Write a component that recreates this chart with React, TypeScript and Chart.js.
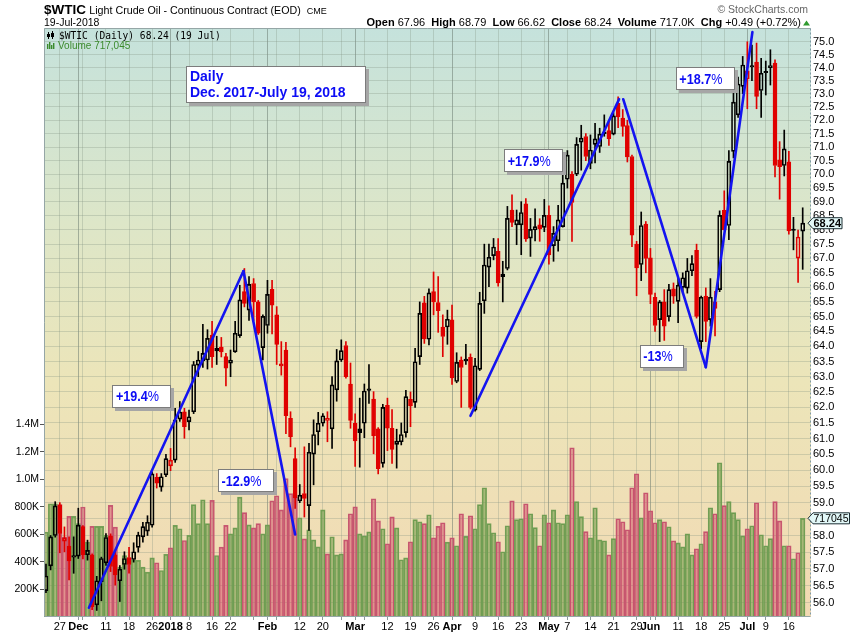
import React, { useEffect, useRef } from "react";
import { Chart, registerables } from "chart.js";

Chart.register(...registerables);

const FONT = '"Liberation Sans", Arial, Helvetica, sans-serif';
const MONO = '"DejaVu Sans Mono", "Liberation Mono", monospace';

const symbol = "$WTIC";
const title = "Light Crude Oil - Continuous Contract (EOD)";
const exchange = "CME";
const lastDateLong = "19-Jul-2018";
const lastDateShort = "19 Jul";

// Daily OHLC, 21 Nov 2017 .. 19 Jul 2018 (one entry per trading day)
const opens = [
  56.36, 57.09, 58.0, 58.93, 57.83, 57.68, 57.35, 57.38, 58.27, 57.42,
  57.42, 55.94, 56.62, 57.18, 57.99, 57.42, 56.65, 57.13, 57.34, 57.28,
  57.64, 57.96, 58.13, 58.31, 59.78, 59.48, 59.86, 60.14, 60.32, 61.62,
  61.86, 61.54, 61.86, 63.38, 63.52, 63.55, 64.38, 63.85, 63.98, 63.66,
  63.44, 63.82, 64.36, 65.85, 65.22, 66.13, 65.5, 63.96, 64.7, 65.93,
  65.06, 63.42, 63.88, 61.65, 60.37, 59.05, 59.28, 58.91, 60.51, 61.22,
  61.49, 61.58, 61.31, 62.57, 63.55, 64.03, 62.76, 61.49, 61.31, 61.49,
  62.6, 62.27, 61.31, 60.22, 62.07, 61.33, 60.82, 60.9, 61.19, 62.26,
  62.16, 63.66, 65.47, 64.24, 65.85, 65.48, 64.65, 64.65, 64.89, 62.84,
  63.55, 63.58, 63.64, 61.91, 63.24, 65.54, 66.7, 67.1, 67.25, 66.46,
  66.65, 68.71, 68.18, 68.18, 68.93, 67.71, 68.0, 68.18, 68.09, 68.52,
  67.45, 67.62, 68.12, 69.82, 70.0, 70.0, 71.18, 71.39, 70.4, 71.1,
  71.02, 71.55, 71.61, 71.48, 72.63, 72.08, 71.8, 70.65, 67.5, 66.79,
  68.21, 67.02, 65.66, 64.9, 65.5, 65.0, 65.95, 65.52, 66.0, 65.97,
  66.57, 67.28, 64.16, 65.7, 64.9, 65.5, 65.92, 68.7, 68.16, 70.84,
  72.2, 73.28, 73.56, 74.02, 74.21, 73.12, 73.8, 74.0, 74.17, 70.53,
  70.32, 70.46, 68.0, 67.01, 67.96,
];
const highs = [
  57.14, 58.0, 59.03, 59.0, 58.26, 57.96, 57.96, 58.83, 58.3, 57.86,
  57.45, 56.78, 57.35, 58.06, 58.05, 57.51, 57.1, 57.51, 57.64, 57.78,
  58.1, 58.4, 58.6, 59.95, 59.9, 59.9, 60.5, 60.69, 61.97, 62.19,
  61.97, 61.91, 63.5, 63.83, 64.74, 64.56, 64.84, 64.34, 64.3, 63.77,
  63.88, 64.84, 66.07, 66.65, 66.37, 66.3, 65.55, 65.06, 66.24, 66.24,
  65.34, 64.16, 64.14, 61.86, 60.71, 59.56, 60.74, 60.85, 61.6, 61.84,
  61.8, 61.86, 63.0, 63.9, 64.22, 64.16, 63.45, 61.79, 62.3, 62.76,
  63.4, 62.51, 61.35, 62.1, 62.3, 61.93, 61.3, 61.5, 62.55, 62.5,
  63.94, 65.5, 65.69, 65.95, 66.53, 66.37, 65.06, 65.22, 65.39, 63.79,
  63.65, 64.07, 63.75, 63.6, 65.83, 67.5, 67.5, 67.7, 67.7, 66.9,
  68.84, 69.26, 68.71, 69.01, 69.12, 68.41, 68.75, 68.4, 69.09, 68.86,
  68.12, 68.88, 70.1, 70.87, 70.1, 71.35, 71.81, 71.5, 71.45, 71.88,
  71.7, 72.2, 71.92, 72.28, 72.88, 72.4, 72.0, 70.7, 67.6, 68.64,
  68.3, 67.35, 65.8, 65.55, 65.92, 66.1, 66.15, 66.38, 66.5, 67.0,
  67.1, 67.5, 65.7, 65.98, 66.3, 65.86, 68.68, 69.4, 70.87, 73.1,
  73.63, 74.43, 75.0, 74.87, 74.95, 74.36, 74.25, 74.69, 74.3, 71.2,
  71.63, 70.84, 68.45, 68.0, 68.79,
];
const lows = [
  56.3, 56.97, 57.95, 57.48, 57.51, 56.67, 56.87, 57.31, 57.3, 57.26,
  55.8, 55.78, 56.06, 57.1, 56.92, 56.52, 56.04, 56.99, 56.87, 57.2,
  57.5, 57.8, 58.0, 58.25, 59.45, 59.35, 59.8, 59.99, 60.25, 61.55,
  61.01, 61.28, 61.8, 63.0, 63.3, 63.25, 63.3, 63.4, 63.65, 62.7,
  63.0, 63.8, 64.3, 65.33, 64.87, 64.87, 64.4, 63.55, 64.44, 64.42,
  63.4, 63.05, 61.16, 60.74, 58.82, 59.0, 58.56, 58.15, 59.55, 60.8,
  61.4, 60.9, 60.69, 62.2, 63.5, 62.95, 61.33, 60.12, 60.1, 61.03,
  62.13, 60.52, 59.89, 60.1, 60.62, 60.22, 60.07, 60.8, 61.05, 61.38,
  62.0, 63.4, 64.1, 64.05, 65.06, 64.47, 63.66, 64.07, 62.75, 62.8,
  62.0, 63.4, 61.95, 61.88, 63.2, 65.11, 66.02, 66.95, 66.04, 65.5,
  66.6, 68.12, 67.48, 67.13, 67.6, 67.07, 67.61, 67.6, 67.94, 66.8,
  66.9, 67.25, 68.1, 69.5, 67.6, 69.95, 70.15, 70.5, 70.2, 70.42,
  70.8, 71.4, 71.06, 71.45, 71.72, 71.4, 70.45, 67.41, 65.71, 66.23,
  66.5, 65.44, 64.5, 64.16, 64.2, 64.85, 65.45, 64.8, 65.8, 65.8,
  66.4, 64.95, 63.92, 64.16, 64.68, 64.35, 65.85, 68.0, 67.66, 70.6,
  72.1, 73.0, 72.43, 73.5, 72.43, 72.1, 72.95, 73.33, 69.9, 69.1,
  69.94, 67.85, 67.3, 66.17, 66.62,
];
const closes = [
  56.79, 57.96, 58.9, 58.06, 57.93, 57.24, 57.38, 58.31, 57.42, 57.55,
  55.89, 56.65, 57.31, 57.94, 57.07, 56.82, 56.99, 57.31, 57.13, 57.51,
  58.01, 58.27, 58.4, 59.89, 59.6, 59.8, 60.37, 60.32, 61.6, 61.85,
  61.38, 61.7, 63.4, 63.55, 63.77, 64.27, 63.66, 63.94, 63.82, 63.28,
  63.55, 64.44, 65.57, 65.45, 66.1, 65.5, 64.44, 65.01, 65.76, 65.39,
  64.07, 63.35, 61.73, 61.06, 59.15, 59.23, 59.13, 60.57, 61.13, 61.49,
  61.73, 61.65, 62.73, 63.52, 63.86, 63.0, 61.58, 60.93, 61.19, 62.53,
  62.55, 61.09, 60.05, 62.0, 61.33, 60.66, 60.92, 61.13, 62.35, 62.05,
  63.49, 65.11, 64.25, 65.81, 65.5, 65.2, 64.33, 64.91, 62.96, 63.47,
  63.3, 63.52, 62.0, 63.36, 65.45, 66.77, 67.04, 67.4, 66.15, 66.37,
  68.41, 68.27, 68.36, 68.62, 67.68, 68.02, 68.12, 68.04, 68.52, 67.12,
  67.88, 68.36, 69.68, 70.7, 68.98, 71.1, 71.33, 70.65, 70.89, 71.3,
  71.48, 71.5, 71.31, 72.16, 72.12, 71.77, 70.64, 67.82, 66.67, 68.16,
  67.0, 65.76, 64.7, 65.5, 64.68, 65.92, 65.7, 66.07, 66.33, 66.57,
  66.82, 65.01, 65.66, 64.84, 65.66, 65.28, 68.52, 68.0, 70.47, 72.68,
  73.37, 74.1, 73.87, 74.05, 72.9, 73.78, 73.84, 74.08, 70.32, 70.28,
  70.93, 67.97, 67.98, 67.75, 68.24,
];
// Volume in thousands of contracts
const volumesK = [
  617, 823, 823, 816, 581, 731, 731, 678, 799, 544,
  658, 658, 658, 593, 811, 653, 362, 447, 430, 416,
  411, 362, 326, 430, 394, 338, 455, 503, 666, 641,
  556, 593, 816, 678, 852, 678, 847, 447, 508, 666,
  605, 648, 871, 758, 670, 648, 678, 605, 670, 845,
  881, 779, 1005, 896, 871, 721, 568, 634, 561, 510,
  779, 459, 583, 452, 459, 561, 750, 801, 605, 590,
  619, 859, 699, 641, 532, 728, 648, 416, 430, 547,
  707, 692, 678, 743, 576, 658, 685, 544, 576, 518,
  750, 586, 736, 641, 816, 939, 678, 612, 547, 474,
  663, 845, 707, 714, 823, 750, 649, 518, 743, 685,
  779, 685, 678, 743, 1230, 838, 729, 620, 576, 794,
  561, 554, 452, 569, 714, 692, 634, 939, 1041, 721,
  903, 772, 685, 707, 692, 656, 554, 539, 510, 605,
  452, 496, 532, 620, 794, 750, 1121, 809, 838, 758,
  707, 590, 641, 663, 830, 598, 518, 569, 838, 699,
  518, 518, 423, 467, 717.045,
];

// x-axis: grid positions (trading-day index) and their labels
const xTickIndex = [3, 7, 8, 13, 18, 23, 27, 31, 36, 40, 45, 48, 50, 55, 60, 64, 67, 69, 74, 79, 84, 88, 93, 98, 103, 108, 109, 113, 118, 123, 128, 131, 132, 137, 142, 147, 152, 156, 161];
const xTickLabel = ["27", "Dec", "", "11", "18", "26", "2018", "8", "16", "22", "", "Feb", "", "12", "20", "", "Mar", "", "12", "19", "26", "Apr", "9", "16", "23", "", "May", "7", "14", "21", "29", "Jun", "", "11", "18", "25", "Jul", "9", "16"];
const monthStartIndex = [7, 27, 48, 67, 88, 109, 131, 152];

const priceTicks = [56, 56.5, 57, 57.5, 58, 58.5, 59, 59.5, 60, 60.5, 61, 61.5, 62, 62.5, 63, 63.5, 64, 64.5, 65, 65.5, 66, 66.5, 67, 67.5, 68, 68.5, 69, 69.5, 70, 70.5, 71, 71.5, 72, 72.5, 73, 73.5, 74, 74.5, 75];
const volumeTicks = [200000, 400000, 600000, 800000, 1000000, 1200000, 1400000];
const volumeTickLabels = ["200K", "400K", "600K", "800K", "1.0M", "1.2M", "1.4M"];

// Hand-drawn trend lines: [trading-day index, price]
const trendLines = [
  [[9.3, 55.86], [42.8, 66.56]],
  [[42.8, 66.56], [54.0, 58.03]],
  [[92.0, 61.73], [124.2, 72.79]],
  [[125.1, 72.79], [143.0, 63.31]],
  [[143.0, 63.31], [153.1, 75.38]],
];

// Text notes anchored at their top-left corner: [trading-day index, price]
const notes = [
  { lines: ["Daily", "Dec. 2017-July 19, 2018"], at: [30.34, 74.06] },
  { lines: ["+19.4%"], at: [14.4, 62.73] },
  { lines: ["-12.9%"], at: [37.3, 60.03] },
  { lines: ["+17.9%"], at: [99.3, 70.91] },
  { lines: ["-13%"], at: [128.7, 64.06] },
  { lines: ["+18.7%"], at: [136.5, 74.01] },
];

const BLUE = "#0c0cf5";
const UP = "#000000";
const DOWN = "#e00000";

function drawBox(ctx: CanvasRenderingContext2D, x: number, y: number, w: number, h: number) {
  ctx.fillStyle = "#a6a6a6";
  ctx.fillRect(Math.round(x) + 3, Math.round(y) + 3, Math.round(w), Math.round(h));
  ctx.fillStyle = "#ffffff";
  ctx.fillRect(Math.round(x), Math.round(y), Math.round(w), Math.round(h));
  ctx.strokeStyle = "#7c7c7c";
  ctx.lineWidth = 1;
  ctx.strokeRect(Math.round(x) + 0.5, Math.round(y) + 0.5, Math.round(w) - 1, Math.round(h) - 1);
}

export default function App() {
  const ref = useRef<HTMLCanvasElement>(null);

  useEffect(() => {
    const n = closes.length;
    const down = closes.map((c, i) => i > 0 && c < closes[i - 1]);
    const color = down.map((d) => (d ? DOWN : UP));
    const filled = closes.map((c, i) => c < opens[i]);
    const volumes = volumesK.map((v) => Math.round(v * 1000));
    const labelAt: Record<number, string> = {};
    xTickIndex.forEach((v, k) => (labelAt[v] = xTickLabel[k]));
    const volLabelAt: Record<number, string> = {};
    volumeTicks.forEach((v, k) => (volLabelAt[v] = volumeTickLabels[k]));

    const decor = {
      id: "stockDecor",
      beforeDraw(chart: any) {
        const { ctx, chartArea: a } = chart;
        ctx.save();
        ctx.fillStyle = "#ffffff";
        ctx.fillRect(0, 0, chart.width, chart.height);
        const g = ctx.createLinearGradient(0, a.top, 0, a.bottom);
        g.addColorStop(0, "#c5e2dc");
        g.addColorStop(0.33, "#dde6c8");
        g.addColorStop(0.6, "#ece5b9");
        g.addColorStop(1, "#f2d9b3");
        ctx.fillStyle = g;
        ctx.fillRect(a.left, a.top, a.right - a.left, a.bottom - a.top);
        ctx.restore();
      },
      afterDatasetsDraw(chart: any) {
        const { ctx } = chart;
        const xs = chart.scales.x;
        const ys = chart.scales.yPrice;
        ctx.save();
        ctx.textBaseline = "alphabetic";
        ctx.textAlign = "left";
        for (const note of notes) {
          const left = xs.getPixelForValue(note.at[0]);
          const top = ys.getPixelForValue(note.at[1]);
          if (note.lines.length > 1) {
            ctx.font = `bold 14px ${FONT}`;
            const tw = Math.max(...note.lines.map((l) => ctx.measureText(l).width));
            const w = tw + 4 + tw * 0.08 + 8;
            const h = 16 * note.lines.length + 5;
            drawBox(ctx, left, top, w, h);
            ctx.fillStyle = BLUE;
            ctx.font = `bold 14px ${FONT}`;
            note.lines.forEach((l, k) => ctx.fillText(l, left + 4, top + 15 + 16 * k));
          } else {
            const txt = note.lines[0];
            const num = txt.replace("%", "");
            ctx.font = `bold 14px ${FONT}`;
            const nw = ctx.measureText(num).width;
            ctx.font = `14px ${FONT}`;
            const pw = ctx.measureText("%").width;
            const sx = 0.9;
            const tw = (nw + pw) * sx;
            const w = tw + 3 + tw * 0.1 + 9;
            const h = 23;
            drawBox(ctx, left, top, w, h);
            ctx.save();
            ctx.translate(left + 3.5, top + 16.5);
            ctx.scale(sx, 1);
            ctx.fillStyle = BLUE;
            ctx.font = `bold 14px ${FONT}`;
            ctx.fillText(num, 0, 0);
            ctx.font = `14px ${FONT}`;
            ctx.fillText("%", nw, 0);
            ctx.restore();
          }
        }
        ctx.restore();
      },
      afterDraw(chart: any) {
        const { ctx, chartArea: a } = chart;
        const ys = chart.scales.yPrice;
        const yv = chart.scales.yVol;
        ctx.save();
        // plot border (solid left/top/bottom, dotted right)
        ctx.strokeStyle = "#95a6a6";
        ctx.lineWidth = 1;
        ctx.beginPath();
        ctx.moveTo(a.right - 0.5, a.top + 0.5);
        ctx.lineTo(a.left + 0.5, a.top + 0.5);
        ctx.lineTo(a.left + 0.5, a.bottom - 0.5);
        ctx.lineTo(a.right - 0.5, a.bottom - 0.5);
        ctx.stroke();
        ctx.setLineDash([2, 2]);
        ctx.strokeStyle = "#7f9aa6";
        ctx.beginPath();
        ctx.moveTo(a.right - 0.5, a.top + 0.5);
        ctx.lineTo(a.right - 0.5, a.bottom - 0.5);
        ctx.stroke();
        ctx.setLineDash([]);

        // header
        ctx.textAlign = "left";
        ctx.textBaseline = "alphabetic";
        ctx.fillStyle = "#000";
        ctx.font = `bold 13.5px ${FONT}`;
        ctx.fillText(symbol, a.left, 13.5);
        let x = a.left + ctx.measureText(symbol).width + 3.3;
        ctx.font = `10.7px ${FONT}`;
        ctx.fillText(title, x, 13.5);
        x += ctx.measureText(title).width + 6;
        ctx.font = `9px ${FONT}`;
        ctx.fillText(exchange, x, 13.5);
        ctx.font = `10.5px ${FONT}`;
        ctx.fillText(lastDateLong, a.left, 26);

        ctx.fillStyle = "#666";
        ctx.textAlign = "right";
        ctx.font = `10.5px ${FONT}`;
        ctx.fillText("\u00A9 StockCharts.com", a.right - 3, 13);

        const last = n - 1;
        const chg = closes[last] - closes[last - 1];
        const pct = (chg / closes[last - 1]) * 100;
        const sign = chg >= 0 ? "+" : "-";
        const segs: [string, boolean][] = [
          ["Open", true], [" " + opens[last].toFixed(2) + "  ", false],
          ["High", true], [" " + highs[last].toFixed(2) + "  ", false],
          ["Low", true], [" " + lows[last].toFixed(2) + "  ", false],
          ["Close", true], [" " + closes[last].toFixed(2) + "  ", false],
          ["Volume", true], [" " + (volumes[last] / 1000).toFixed(1) + "K  ", false],
          ["Chg", true], [" " + sign + Math.abs(chg).toFixed(2) + " (" + sign + Math.abs(pct).toFixed(2) + "%)", false],
        ];
        ctx.textAlign = "left";
        ctx.fillStyle = "#000";
        let total = 0;
        for (const [t, b] of segs) {
          ctx.font = `${b ? "bold " : ""}11px ${FONT}`;
          total += ctx.measureText(t).width;
        }
        x = a.right - 10 - total;
        for (const [t, b] of segs) {
          ctx.font = `${b ? "bold " : ""}11px ${FONT}`;
          ctx.fillText(t, x, 26);
          x += ctx.measureText(t).width;
        }
        ctx.fillStyle = "#2f9a2f";
        ctx.beginPath();
        ctx.moveTo(a.right - 8, 25.5);
        ctx.lineTo(a.right - 1, 25.5);
        ctx.lineTo(a.right - 4.5, 20.5);
        ctx.closePath();
        ctx.fill();

        // in-plot legend
        const lx = a.left + 3;
        ctx.fillStyle = "#000";
        ctx.fillRect(lx + 1, a.top + 4, 1, 7);
        ctx.fillRect(lx, a.top + 6, 3, 3);
        ctx.fillRect(lx + 5, a.top + 3, 1, 8);
        ctx.strokeStyle = "#000";
        ctx.strokeRect(lx + 4.5, a.top + 5.5, 2, 3);
        ctx.font = `9.6px ${MONO}`;
        ctx.fillText(`${symbol} (Daily) ${closes[last].toFixed(2)} (${lastDateShort})`, a.left + 15, a.top + 11);
        ctx.fillStyle = "#3b8a2c";
        const bh = [5, 7, 4, 6];
        bh.forEach((hh, k) => ctx.fillRect(lx + k * 2, a.top + 21 - hh, 1.4, hh));
        ctx.font = `10px ${FONT}`;
        ctx.fillText(`Volume ${volumes[last].toLocaleString("en-US")}`, a.left + 14, a.top + 21);

        // right-side last value markers
        const tag = (yy: number, text: string, right: number, font: string) => {
          const x0 = a.right - 3;
          const hh = 5.5;
          ctx.beginPath();
          ctx.moveTo(x0, yy);
          ctx.lineTo(x0 + 5, yy - hh);
          ctx.lineTo(right, yy - hh);
          ctx.lineTo(right, yy + hh);
          ctx.lineTo(x0 + 5, yy + hh);
          ctx.closePath();
          ctx.fillStyle = "#e2f8f8";
          ctx.fill();
          ctx.strokeStyle = "#1c2e33";
          ctx.lineWidth = 1;
          ctx.stroke();
          ctx.fillStyle = "#000";
          ctx.font = font;
          ctx.textBaseline = "middle";
          ctx.textAlign = "left";
          ctx.fillText(text, x0 + 5.5, yy + 0.5);
        };
        tag(ys.getPixelForValue(closes[last]), closes[last].toFixed(2), a.right + 31, `bold 11px ${FONT}`);
        tag(yv.getPixelForValue(volumes[last]), String(volumes[last]), chart.width - 0.5, `10.5px ${FONT}`);
        ctx.restore();
      },
    };

    const idx = closes.map((_, i) => i);
    const datasets: any[] = [
      {
        type: "bar",
        label: "Volume",
        xAxisID: "x",
        yAxisID: "yVol",
        data: idx.map((i) => ({ x: i, y: volumes[i] })),
        backgroundColor: down.map((d) => (d ? "rgba(205,70,100,0.48)" : "rgba(100,150,65,0.52)")),
        borderColor: down.map((d) => (d ? "#c65a72" : "#74a058")),
        borderWidth: { top: 1, left: 1, right: 1, bottom: 0 },
        barThickness: 4.6,
        grouped: false,
        order: 10,
      },
      {
        type: "bar",
        label: "upper wick",
        xAxisID: "x",
        yAxisID: "yPrice",
        data: idx.map((i) => ({ x: i, y: [Math.max(opens[i], closes[i]), highs[i]] })),
        backgroundColor: color,
        borderWidth: 0,
        barThickness: 1,
        grouped: false,
        order: 6,
      },
      {
        type: "bar",
        label: "lower wick",
        xAxisID: "x",
        yAxisID: "yPrice",
        data: idx.map((i) => ({ x: i, y: [lows[i], Math.min(opens[i], closes[i])] })),
        backgroundColor: color,
        borderWidth: 0,
        barThickness: 1,
        grouped: false,
        order: 6,
      },
      {
        type: "bar",
        label: "body",
        xAxisID: "x",
        yAxisID: "yPrice",
        data: idx.map((i) => ({ x: i, y: [Math.min(opens[i], closes[i]), Math.max(opens[i], closes[i])] })),
        backgroundColor: idx.map((i) => (filled[i] ? color[i] : "rgba(0,0,0,0)")),
        borderColor: color,
        borderWidth: 1,
        borderSkipped: false,
        barThickness: 4,
        minBarLength: 1.5,
        grouped: false,
        order: 5,
      },
      ...trendLines.map((seg, k) => ({
        type: "line",
        label: "trend " + k,
        xAxisID: "x",
        yAxisID: "yPrice",
        data: seg.map(([x, y]) => ({ x, y })),
        borderColor: "#1414f0",
        borderWidth: 2.6,
        pointRadius: 0,
        tension: 0,
        fill: false,
        borderCapStyle: "round",
        order: 1,
      })),
    ];

    const chart = new Chart(ref.current as HTMLCanvasElement, {
      type: "bar",
      data: { datasets },
      options: {
        animation: false,
        responsive: false,
        events: [],
        layout: { padding: { top: 28, left: 0, right: 0, bottom: 0 } },
        plugins: { legend: { display: false }, tooltip: { enabled: false } },
        scales: {
          x: {
            type: "linear",
            position: "bottom",
            min: -0.43,
            max: 165.8,
            offset: false,
            grid: {
              offset: false,
              color: (c: any) => (c.tick && monthStartIndex.includes(c.tick.value) ? "rgba(100,115,105,0.5)" : "rgba(130,145,130,0.3)"),
              lineWidth: 1,
              drawTicks: true,
              tickLength: 3,
              tickColor: "#8a9a9a",
            },
            border: { display: false },
            afterBuildTicks: (s: any) => {
              s.ticks = xTickIndex.map((v) => ({ value: v }));
            },
            afterFit: (s: any) => {
              s.height = 16;
            },
            ticks: {
              autoSkip: false,
              maxRotation: 0,
              minRotation: 0,
              padding: 0,
              color: "#000",
              font: (c: any) => ({ family: FONT, size: 11, weight: c.tick && monthStartIndex.includes(c.tick.value) ? "bold" : "normal" }),
              callback: (v: any) => labelAt[v] ?? "",
            },
          },
          yPrice: {
            type: "logarithmic",
            position: "right",
            min: 55.59,
            max: 75.54,
            beginAtZero: false,
            grid: { color: "rgba(130,145,130,0.3)", lineWidth: 1, drawTicks: false },
            border: { display: false },
            afterBuildTicks: (s: any) => {
              s.ticks = priceTicks.map((v) => ({ value: v }));
            },
            afterFit: (s: any) => {
              s.width = 39;
            },
            ticks: {
              autoSkip: false,
              padding: 2,
              color: "#000",
              font: { family: FONT, size: 11 },
              callback: (v: any) => Number(v).toFixed(1),
            },
          },
          yVol: {
            type: "linear",
            position: "left",
            min: 0,
            max: 4280000,
            beginAtZero: true,
            grid: { drawOnChartArea: false, drawTicks: true, tickLength: 4, color: "#555", tickColor: "#555" },
            border: { display: false },
            afterBuildTicks: (s: any) => {
              s.ticks = volumeTicks.map((v) => ({ value: v }));
            },
            afterFit: (s: any) => {
              s.width = 44;
            },
            ticks: {
              autoSkip: false,
              padding: 1,
              color: "#000",
              font: { family: FONT, size: 10.5 },
              callback: (v: any) => volLabelAt[v] ?? "",
            },
          },
        },
      } as any,
      plugins: [decor],
    });
    return () => chart.destroy();
  }, []);

  return (
    <div style={{ position: "absolute", left: 0, top: 0, width: 850, height: 633, background: "#fff" }}>
      <canvas ref={ref} width={850} height={633} style={{ width: 850, height: 633, display: "block" }} />
    </div>
  );
}
